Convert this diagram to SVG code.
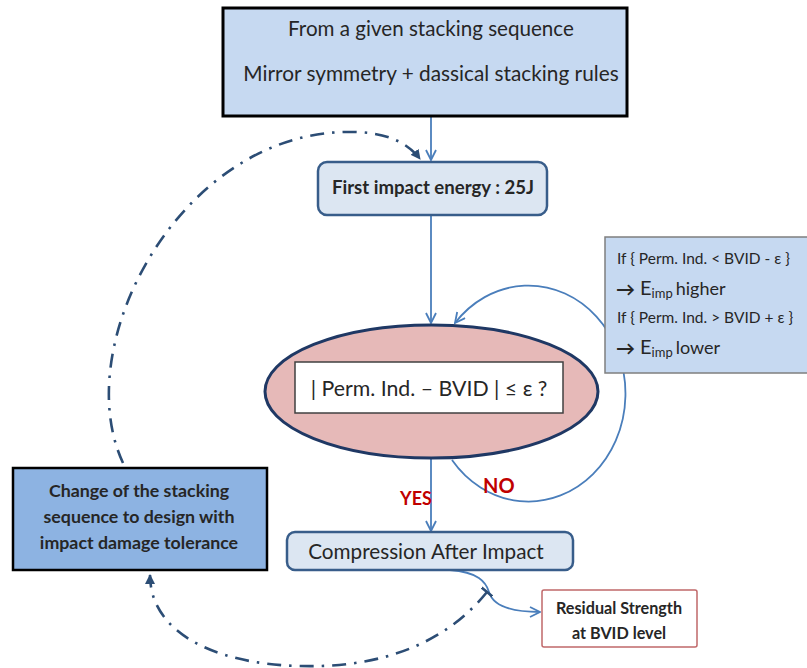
<svg xmlns="http://www.w3.org/2000/svg" width="807" height="668" viewBox="0 0 807 668">
<style>
text{font-family:Lato,"Liberation Sans",sans-serif;fill:#262626}
.b{font-weight:bold}
.flow{fill:none;stroke:#4a7ebb;stroke-width:1.8}
.dd{fill:none;stroke:#2c4d75;stroke-width:2.6;stroke-dasharray:14 8 2.5 8}
.red{fill:#c00000;font-weight:bold}
</style>
<defs>
<marker id="open" viewBox="0 0 12 12" refX="11" refY="6" markerWidth="12" markerHeight="12" markerUnits="userSpaceOnUse" orient="auto">
<path d="M1,1 L11,6 L1,11" fill="none" stroke="#4a7ebb" stroke-width="1.8"/>
</marker>
<marker id="tri" viewBox="0 0 10 10" refX="9" refY="5" markerWidth="10" markerHeight="10" markerUnits="userSpaceOnUse" orient="auto">
<path d="M0,0 L10,5 L0,10 Z" fill="#2c4d75"/>
</marker>
<marker id="tick" viewBox="0 0 4 14" refX="2" refY="7" markerWidth="4" markerHeight="14" markerUnits="userSpaceOnUse" orient="auto">
<path d="M2,0 L2,14" stroke="#2c4d75" stroke-width="2.6"/>
</marker>
</defs>

<g id="connectors">
<path class="flow" d="M431,116 L431,160" marker-end="url(#open)"/>
<path class="flow" d="M431,215 L431,323" marker-end="url(#open)"/>
<path class="flow" d="M452,460 A97 108 0 1 0 455,323" marker-end="url(#open)"/>
<path class="flow" d="M431,458 L431,531" marker-end="url(#open)"/>
<path class="flow" d="M450,570 C478,572 486,582 489,592 C493,606 510,612 540,612" marker-end="url(#open)"/>
<path class="dd" d="M123,463 C68,345 180,135 345,132 C385,131 407,142 420,159" marker-end="url(#tri)"/>
<path class="dd" d="M487,592 C440,650 370,668 300,666 C210,664 150,630 150,575" marker-start="url(#tick)" marker-end="url(#tri)"/>
<text class="red" x="400" y="505" font-size="18">YES</text>
<text class="red" x="483" y="493" font-size="20">NO</text>
</g>

<g id="start">
<rect x="223" y="8" width="404" height="108" fill="#c6d9f1" stroke="#000" stroke-width="3"/>
<text x="431" y="36" font-size="20.6" text-anchor="middle">From a given stacking sequence</text>
<text x="431" y="81" font-size="20.8" text-anchor="middle">Mirror symmetry + dassical stacking rules</text>
</g>

<g id="first-impact">
<rect x="318" y="162" width="229" height="53" rx="9" fill="#dce6f2" stroke="#385d8a" stroke-width="2.5"/>
<text class="b" x="433" y="194" font-size="18.6" text-anchor="middle">First impact energy : 25J</text>
</g>

<g id="decision">
<ellipse cx="431.5" cy="391.5" rx="166.5" ry="66.5" fill="#e6b9b8" stroke="#1f3864" stroke-width="3"/>
<rect x="295" y="362" width="268" height="51" fill="#fff" stroke="#404040" stroke-width="1.5"/>
<text x="429" y="396" font-size="21.3" text-anchor="middle">| Perm. Ind. – BVID | ≤ ε ?</text>
</g>

<g id="rules">
<rect x="605" y="237" width="206" height="136" fill="#c6d9f1" stroke="#7f7f7f" stroke-width="1.5"/>
<text x="617" y="264" font-size="15.5">If { Perm. Ind. &lt; BVID - ε }</text>
<text x="616" y="296" font-size="19" font-weight="bold">→<tspan x="640" y="295" font-size="20" font-weight="normal">E</tspan><tspan font-size="13" dy="3" font-weight="normal">imp</tspan><tspan dy="-3" dx="3" font-size="18" font-weight="normal">higher</tspan></text>
<text x="617" y="323" font-size="15.5">If { Perm. Ind. &gt; BVID + ε }</text>
<text x="616" y="355" font-size="19" font-weight="bold">→<tspan x="640" y="354" font-size="20" font-weight="normal">E</tspan><tspan font-size="13" dy="3" font-weight="normal">imp</tspan><tspan dy="-3" dx="3" font-size="18" font-weight="normal">lower</tspan></text>
</g>

<g id="change">
<rect x="13" y="468" width="254" height="102" fill="#8db3e2" stroke="#000" stroke-width="2.5"/>
<text class="b" x="139" y="497" font-size="17.8" text-anchor="middle" fill="#1f2a44">Change of the stacking</text>
<text class="b" x="139" y="523" font-size="17.8" text-anchor="middle" fill="#1f2a44">sequence to design with</text>
<text class="b" x="139" y="549" font-size="17.8" text-anchor="middle" fill="#1f2a44">impact damage tolerance</text>
</g>

<g id="cai">
<rect x="287" y="532" width="286" height="38" rx="8" fill="#dce6f2" stroke="#385d8a" stroke-width="2.5"/>
<text x="426" y="559" font-size="20.7" text-anchor="middle">Compression After Impact</text>
</g>

<g id="residual">
<rect x="542" y="590" width="155" height="57" rx="2" fill="#fff" stroke="#c0686a" stroke-width="1.5"/>
<text class="b" x="619" y="614" font-size="16.2" text-anchor="middle">Residual Strength</text>
<text class="b" x="619" y="639" font-size="16.2" text-anchor="middle">at BVID level</text>
</g>
</svg>
